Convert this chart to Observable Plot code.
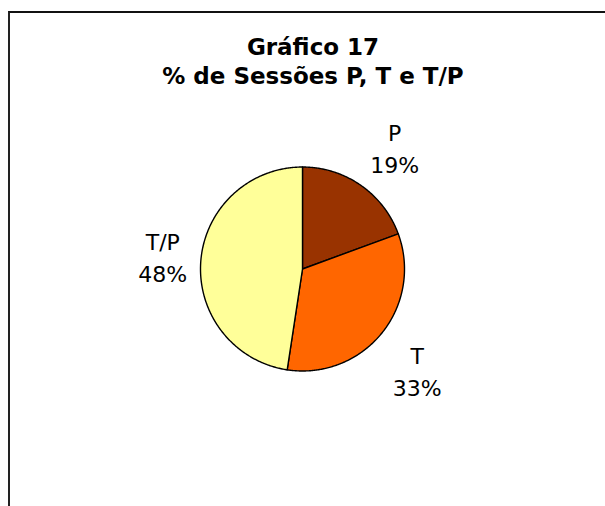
<!DOCTYPE html>
<html>
<head>
<meta charset="utf-8">
<script src="https://cdn.jsdelivr.net/npm/d3@7"></script>
<script src="https://cdn.jsdelivr.net/npm/@observablehq/plot@0.6"></script>
<style>
  html, body { margin: 0; padding: 0; background: #fff; }
  #wrap { position: relative; width: 605px; height: 506px; overflow: hidden; }
  #border { position: absolute; left: 8px; top: 11px; right: -10px; bottom: -10px;
            border-left: 2px solid #222; border-top: 2px solid #111; pointer-events: none; }
  svg { display: block; }
  g[aria-label="title"] text { letter-spacing: 0.8px; }
  g[aria-label="slice labels"] text { letter-spacing: 1px; }
</style>
</head>
<body>
<div id="wrap"><div id="border"></div></div>
<script>
// ---- data ----
const titleLines = ["Gráfico 17", "% de Sessões P, T e T/P"];
const categories = ["P", "T", "T/P"];
const values = [19.4, 33.0, 47.6];
const colors = ["#993300", "#FF6600", "#FFFF99"];

// ---- layout ----
const W = 605, H = 506;
const cx = 302, cy = 268.5, R = 102;

// pie angles: start at 12 o'clock, clockwise
const pie = d3.pie().sort(null).value(d => d.value)
  (categories.map((c, i) => ({cat: c, value: values[i]})));
const total = d3.sum(values);

const slicePts = [];
pie.forEach(p => {
  const n = Math.max(2, Math.ceil((p.endAngle - p.startAngle) / 0.01));
  slicePts.push({cat: p.data.cat, x: 0, y: 0});
  for (let k = 0; k <= n; k++) {
    const a = p.startAngle + (p.endAngle - p.startAngle) * k / n;
    slicePts.push({cat: p.data.cat, x: Math.sin(a), y: Math.cos(a)});
  }
  slicePts.push({cat: p.data.cat, x: 0, y: 0});
});

// label placement: anchor just outside the arc, box pushed away from it
const gap = 10;               // px between arc and label anchor
const halfW = 28, halfH = 30; // approximate label box half-size in px
const clamp = v => Math.max(-1, Math.min(1, v));
const labels = pie.map(p => {
  const a = (p.startAngle + p.endAngle) / 2;
  const s = Math.sin(a), c = Math.cos(a);
  const ax = s * (R + gap) + halfW * clamp(2 * s);
  const ay = c * (R + gap) + halfH * clamp(2 * c);
  return {
    x: ax / R, y: ay / R,
    text: p.data.cat + "\n" + Math.round(p.data.value / total * 100) + "%"
  };
});

const chart = Plot.plot({
  width: W, height: H,
  margin: 0,
  style: {fontFamily: "'DejaVu Sans', Verdana, sans-serif", background: "transparent", overflow: "visible"},
  x: {domain: [-1, 1], range: [cx - R, cx + R], axis: null},
  y: {domain: [-1, 1], range: [cy + R, cy - R], axis: null},
  color: {domain: categories, range: colors},
  marks: [
    Plot.line(slicePts, {x: "x", y: "y", z: "cat", fill: "cat", stroke: "#000", strokeWidth: 1.4, curve: "linear", strokeLinejoin: "round"}),
    Plot.text(labels, {x: "x", y: "y", text: "text", fontSize: 22, fill: "#000", lineHeight: 1.45, textAnchor: "middle", lineAnchor: "middle", ariaLabel: "slice labels"}),
    Plot.text([titleLines.join("\n")], {frameAnchor: "top", dx: 10, dy: 33.5, lineAnchor: "top", text: d => d, fontSize: 23, fontWeight: "bold", fill: "#000", lineHeight: 1.28, ariaLabel: "title"})
  ]
});
document.getElementById("wrap").prepend(chart);
</script>
</body>
</html>
